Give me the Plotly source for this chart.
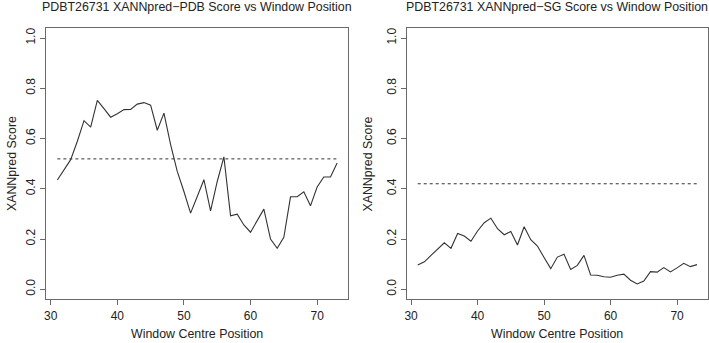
import plotly.graph_objects as go

# ---------------- data ----------------
positions = list(range(31, 74))

pdb_scores = [0.435, 0.476, 0.516, 0.589, 0.671, 0.645, 0.752, 0.719, 0.685, 0.699,
              0.715, 0.716, 0.737, 0.743, 0.733, 0.633, 0.701, 0.576, 0.469, 0.389,
              0.303, 0.369, 0.436, 0.312, 0.429, 0.527, 0.292, 0.299, 0.256, 0.227,
              0.276, 0.319, 0.200, 0.163, 0.207, 0.368, 0.368, 0.388, 0.332, 0.407,
              0.447, 0.447, 0.503]

sg_scores = [0.097, 0.109, 0.135, 0.159, 0.185, 0.163, 0.222, 0.212, 0.191, 0.232,
             0.265, 0.283, 0.241, 0.217, 0.230, 0.176, 0.249, 0.197, 0.172, 0.126,
             0.082, 0.128, 0.139, 0.079, 0.095, 0.135, 0.057, 0.056, 0.050, 0.048,
             0.056, 0.060, 0.036, 0.021, 0.033, 0.070, 0.068, 0.086, 0.069, 0.085,
             0.103, 0.090, 0.098]

pdb_threshold = 0.519
sg_threshold = 0.42

x_ticks = [30, 40, 50, 60, 70]
y_ticks = [0.0, 0.2, 0.4, 0.6, 0.8, 1.0]
y_tick_labels = ["0.0", "0.2", "0.4", "0.6", "0.8", "1.0"]

titles = ["PDBT26731 XANNpred\u2212PDB Score vs Window Position",
          "PDBT26731 XANNpred\u2212SG Score vs Window Position"]
x_title = "Window Centre Position"
y_title = "XANNpred Score"

# ---------------- figure ----------------
W, H = 709, 343
FONT = "Liberation Sans, Arial, Helvetica, sans-serif"
LINE = "#333333"
AXC = "#6a6a6a"

fig = go.Figure()

for i, (scores, thr) in enumerate([(pdb_scores, pdb_threshold), (sg_scores, sg_threshold)]):
    xa = "x" if i == 0 else "x2"
    ya = "y" if i == 0 else "y2"
    fig.add_trace(go.Scatter(x=positions, y=scores, mode="lines",
                             line=dict(color=LINE, width=1.1),
                             xaxis=xa, yaxis=ya, showlegend=False, hoverinfo="skip"))
    fig.add_trace(go.Scatter(x=[positions[0], positions[-1]], y=[thr, thr], mode="lines",
                             line=dict(color=LINE, width=1, dash="3px,3px"),
                             xaxis=xa, yaxis=ya, showlegend=False, hoverinfo="skip"))

xmin, xmax = min(positions), max(positions)
xpad = (xmax - xmin) * 0.04
xrange = [xmin - xpad, xmax + xpad]
yrange = [-0.04, 1.04]

common_x = dict(range=xrange, tickvals=x_ticks, showline=True, mirror=True,
                linecolor=AXC, linewidth=1, ticks="outside", ticklen=5, tickcolor=AXC,
                showgrid=False, zeroline=False,
                tickfont=dict(family=FONT, size=12, color="#222"))
common_y = dict(range=yrange, tickvals=y_ticks, ticktext=y_tick_labels, showline=True,
                mirror=True, linecolor=AXC, linewidth=1, ticks="outside", ticklen=5,
                tickcolor=AXC, showgrid=False, zeroline=False, tickangle=-90,
                tickfont=dict(family=FONT, size=12, color="#222"))

x1_dom = [44.3 / W, 347.3 / W]
x2_dom = [405.7 / W, 708.2 / W]
y_dom = [(H - 299.3) / H, (H - 28) / H]

fig.update_layout(
    width=W, height=H,
    margin=dict(l=0, r=0, t=0, b=0),
    paper_bgcolor="white", plot_bgcolor="white",
    font=dict(family=FONT, size=12, color="#222"),
    xaxis=dict(domain=x1_dom, anchor="y", **common_x),
    yaxis=dict(domain=y_dom, anchor="x", **common_y),
    xaxis2=dict(domain=x2_dom, anchor="y2", **common_x),
    yaxis2=dict(domain=y_dom, anchor="x2", **common_y),
)

annotations = []
for dom, title in [(x1_dom, titles[0]), (x2_dom, titles[1])]:
    cx = (dom[0] + dom[1]) / 2
    annotations.append(dict(text=title, x=cx, y=(H - 7.5) / H, xref="paper", yref="paper",
                            xanchor="center", yanchor="middle", showarrow=False,
                            font=dict(family=FONT, size=12.4, color="#222")))
    annotations.append(dict(text=x_title, x=cx, y=(H - 334) / H, xref="paper", yref="paper",
                            xanchor="center", yanchor="middle", showarrow=False,
                            font=dict(family=FONT, size=12.4, color="#222")))
for xpix in [9.5, 367]:
    annotations.append(dict(text=y_title, x=xpix / W, y=(y_dom[0] + y_dom[1]) / 2,
                            xref="paper", yref="paper", xanchor="center", yanchor="middle",
                            textangle=-90, showarrow=False,
                            font=dict(family=FONT, size=12.4, color="#222")))
fig.update_layout(annotations=annotations)

fig.write_html("out.html", config={"displayModeBar": False, "staticPlot": True},
               post_script="document.body.style.margin='0';document.body.style.overflow='hidden';")
